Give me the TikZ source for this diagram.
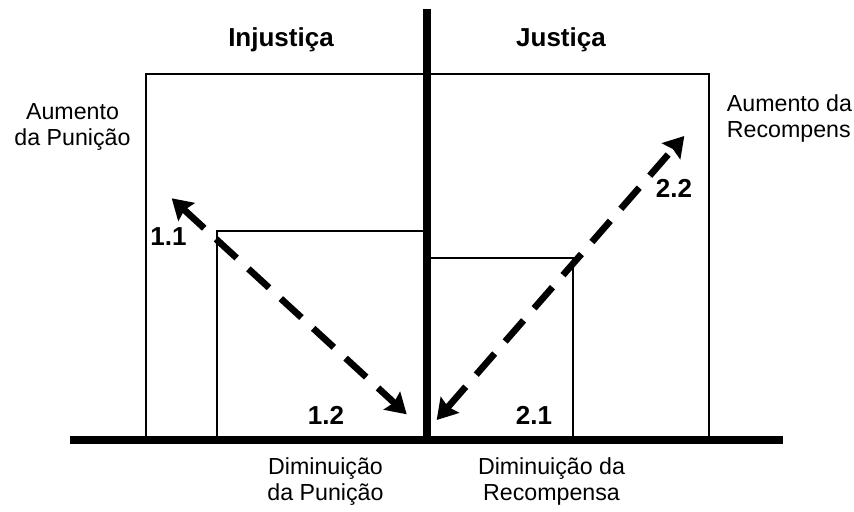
\documentclass[tikz,border=0pt]{standalone}
\usepackage{fontspec}
\setmainfont{Liberation Sans}
\usetikzlibrary{arrows.meta}

\tikzset{
  frame/.style = {draw, line width=1.1pt},
  axis/.style  = {draw, line width=5.3pt},
  move/.style  = {draw, line width=5pt, dash pattern=on 21pt off 12pt,
                  >={Stealth[length=15pt, width=18pt, inset=2pt]}, <->},
  title/.style = {font=\fontsize{19.5}{23}\selectfont\bfseries,
                  anchor=base, inner sep=0pt},
  side/.style  = {font=\fontsize{17.4}{19.5}\selectfont,
                  align=center, inner sep=0pt}
}

\begin{document}
\begin{tikzpicture}[x=0.75pt, y=-0.75pt]
\useasboundingbox (0,0) rectangle (854,511);
% quadros
\draw[frame] (146,440) rectangle (709,74);
\draw[frame] (217,440) rectangle (427,231);
\draw[frame] (427,440) rectangle (573,258);
% eixos
\coordinate (top) at (427,9);
\coordinate (mid) at (427,440);
\coordinate (left) at (70,440);
\coordinate (right) at (783,440);
\draw[axis, line width=6pt] (top) -- (mid);
\draw[axis] (left) -- (right);
% setas
\coordinate (p11) at (171.7,198.3);
\coordinate (p12) at (406.7,414.3);
\coordinate (p21) at (436.7,420);
\coordinate (p22) at (684.3,136);
\draw[move] (p11) -- (p12);
\draw[move] (p21) -- (p22);
% titulos e numeros
\node[title] (inj) at (281,46) {Injustiça};
\node[title] (jus) at (561,46) {Justiça};
\node[title] (n11) at (168.5,245) {1.1};
\node[title] (n12) at (326,424) {1.2};
\node[title] (n21) at (534,424) {2.1};
\node[title] (n22) at (674,197) {2.2};
% eixos - textos
\node[side] (aumP) at (72.5,127) {Aumento\\da Punição};
\node[side, align=left, anchor=west] (aumR) at (726.7,118.5) {Aumento da\\Recompens};
\node[side] (dimP) at (325.5,481.5) {Diminuição\\da Punição};
\node[side] (dimR) at (551.5,481.5) {Diminuição da\\Recompensa};
\end{tikzpicture}
\end{document}
